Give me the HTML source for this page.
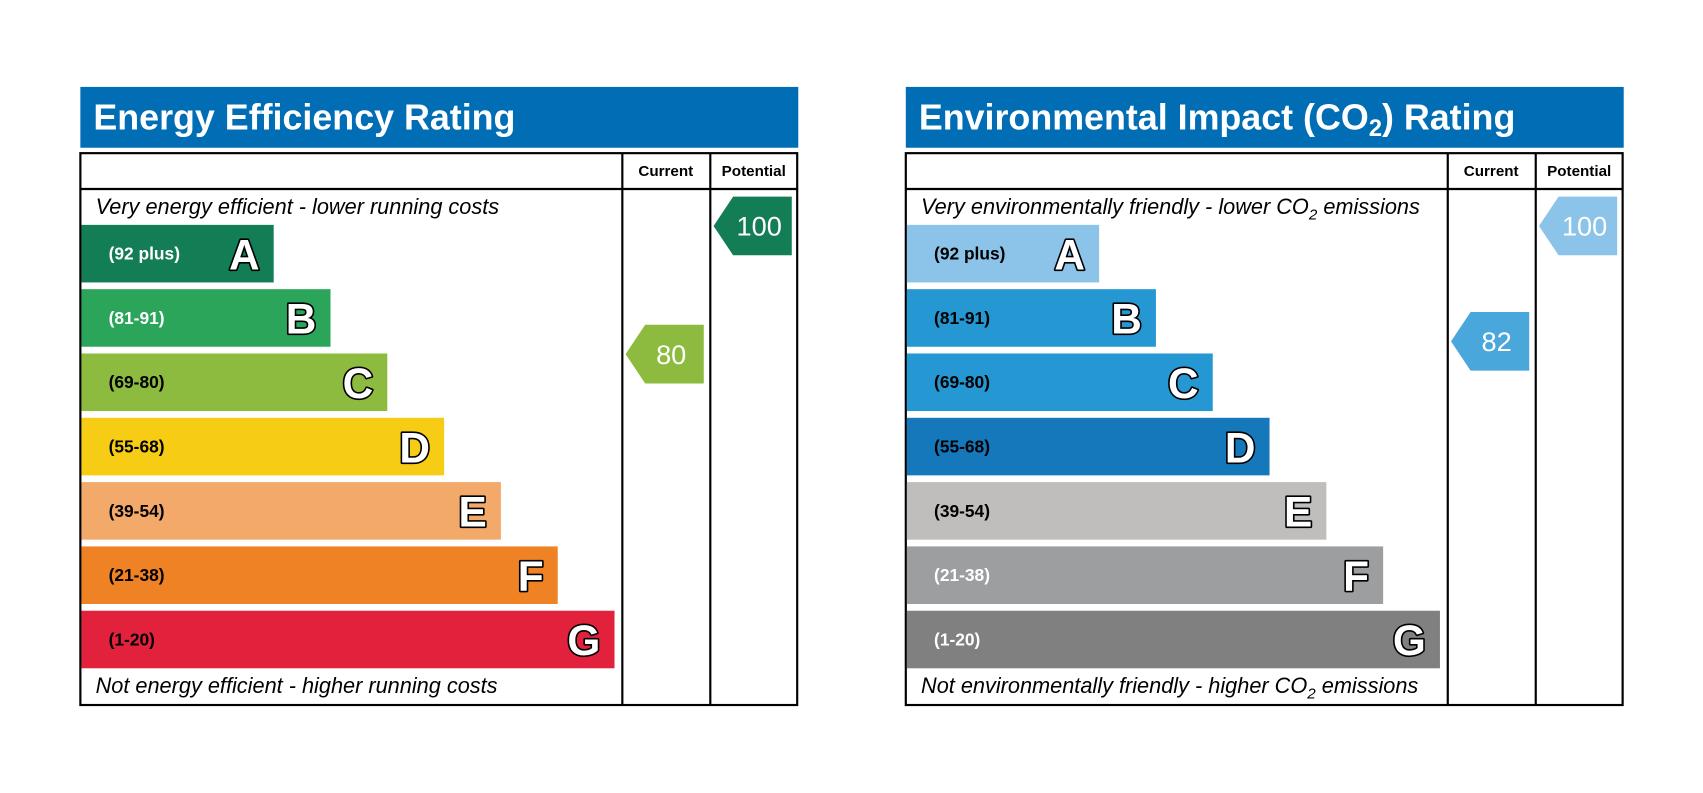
<!DOCTYPE html>
<html><head><meta charset="utf-8"><style>
html,body{margin:0;padding:0;background:#fff;}
svg{display:block;font-family:"Liberation Sans",Arial,sans-serif;}
</style></head><body>
<svg id="svg" width="1703" height="793" viewBox="0 0 1568 730" preserveAspectRatio="none" xmlns="http://www.w3.org/2000/svg"></svg>
<script>
const bandLetters = ["A","B","C","D","E","F","G"];
const bandRanges = ["(92 plus)","(81-91)","(69-80)","(55-68)","(39-54)","(21-38)","(1-20)"];
const energyCurrent = 80;
const energyPotential = 100;
const envCurrent = 82;
const envPotential = 100;

const NS="http://www.w3.org/2000/svg";
const svg=document.getElementById('svg');
function mk(tag,attrs,parent,text){const e=document.createElementNS(NS,tag);for(const k in attrs)e.setAttribute(k,attrs[k]);if(text!==undefined)e.textContent=text;(parent||svg).appendChild(e);return e;}
function yOf(v){return 208+(100-v)*5.9;}

function chart(ox,title,sub,topText,botText,colors,labelColors,cur,pot,curColor,potColor,key){
  const g=mk('g',{});
  
  
  const h=mk('rect',{x:ox,y:80,width:661,height:56,fill:'#006db4'},g);
  
  const t=mk('text',{x:ox+12,y:119,fill:'#fff','font-size':33,'font-weight':'bold'},g);
  
  t.appendChild(document.createTextNode(title));
  if(sub){mk('tspan',{'font-size':22,dy:6},t,'2');mk('tspan',{dy:-6},t,') Rating');}
  const box=mk('rect',{x:ox,y:141,width:660,height:508,fill:'none',stroke:'#000','stroke-width':2},g);
  
  mk('line',{x1:ox,y1:174,x2:ox+660,y2:174,stroke:'#000','stroke-width':2},g);
  mk('line',{x1:ox+499,y1:141,x2:ox+499,y2:649,stroke:'#000','stroke-width':2},g);
  mk('line',{x1:ox+580,y1:141,x2:ox+580,y2:649,stroke:'#000','stroke-width':2},g);
  const c1=mk('text',{x:ox+539,y:162,'font-size':14,'font-weight':'bold','text-anchor':'middle'},g,'Current');
  
  const c2=mk('text',{x:ox+620,y:162,'font-size':14,'font-weight':'bold','text-anchor':'middle'},g,'Potential');
  
  const tt=mk('text',{x:ox+14,y:197,'font-size':20,'font-style':'italic'},g);
  tt.innerHTML=topText;
  
  const bt=mk('text',{x:ox+14,y:638,'font-size':20,'font-style':'italic'},g);
  bt.innerHTML=botText;
  
  bandLetters.forEach((L,i)=>{
    const y=207+i*59.2, w=177+i*52.3;
    const r=mk('rect',{x:ox+1,y:y,width:w,height:53,fill:colors[i]},g);
    
    const lt=mk('text',{x:ox+26,y:y+32,'font-size':16,'font-weight':'bold',fill:labelColors[i]},g,bandRanges[i]);
    
    const lg=mk('text',{x:ox+w-12,y:y+41,'font-size':39,'font-weight':'bold','text-anchor':'end',fill:'#fff',stroke:'#000','stroke-width':3,'paint-order':'stroke','stroke-linejoin':'round'},g,L);
    
  });
  function arrow(x,v,col,name){
    const cy=yOf(v),x2=x+72;
    const p=mk('polygon',{points:`${x},${cy} ${x+18},${cy-27} ${x2},${cy-27} ${x2},${cy+27} ${x+18},${cy+27}`,fill:col},g);
    
    const tx=mk('text',{x:x+42,y:cy+9,'font-size':25,fill:'#fff','text-anchor':'middle'},g,String(v));
    
  }
  arrow(ox+502,cur,curColor,key+'-current');
  arrow(ox+583,pot,potColor,key+'-potential');
}
chart(74,'Energy Efficiency Rating',false,'Very energy efficient - lower running costs','Not energy efficient - higher running costs',
 ['#137e56','#2ba55a','#8dbb40','#f6cd14','#f2a96a','#ee8225','#e2223d'],
 ['#fff','#fff','#000','#000','#000','#000','#000'],energyCurrent,energyPotential,'#8dbb40','#137e56','energy');
chart(834,'Environmental Impact (CO',true,'Very environmentally friendly - lower CO<tspan font-size="14" dy="5">2</tspan><tspan dy="-5"> emissions</tspan>','Not environmentally friendly - higher CO<tspan font-size="14" dy="5">2</tspan><tspan dy="-5"> emissions</tspan>',
 ['#8bc4e8','#2597d3','#2597d3','#1478bb','#bfbebc','#9d9e9f','#808080'],
 ['#000','#000','#000','#000','#000','#fff','#fff'],envCurrent,envPotential,'#4aa7dc','#8bc4e8','environmental');
</script>
</body></html>
